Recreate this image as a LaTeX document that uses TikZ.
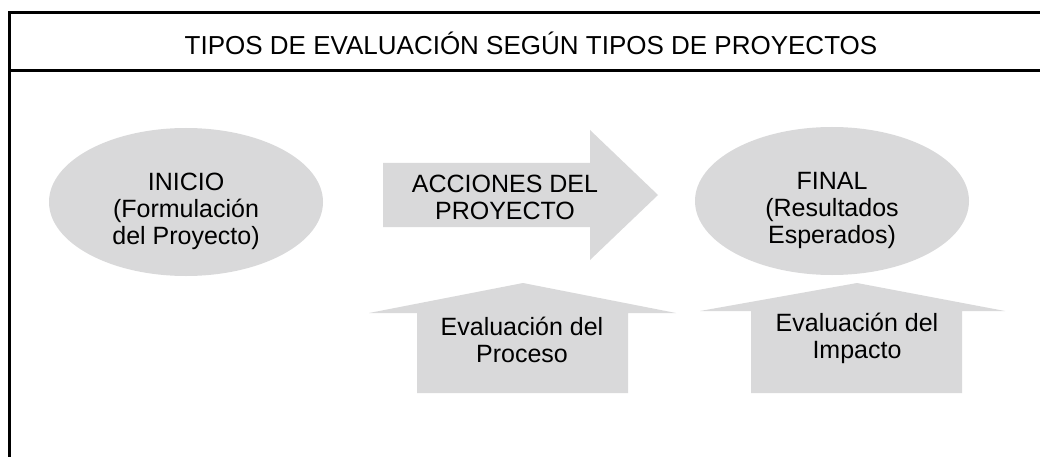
\documentclass[tikz,border=0pt]{standalone}
\usepackage{fontspec}
\setmainfont{Liberation Sans}
\definecolor{boxgray}{RGB}{217,217,218}
\tikzset{
  frameline/.style={line width=3pt, black},
  shapefill/.style={fill=boxgray, draw=none},
  lbl/.style={align=center, font=\fontsize{25}{27}\selectfont, inner sep=0pt},
  ttl/.style={font=\fontsize{26}{30}\selectfont, inner sep=0pt}
}
\begin{document}
\begin{tikzpicture}[x=1pt,y=-1pt]
\useasboundingbox (0,0) rectangle (1040,457);
% frame
\coordinate (tl) at (9.5,13);
\coordinate (tr) at (1040,13);
\coordinate (sl) at (9.5,70.5);
\coordinate (sr) at (1040,70.5);
\coordinate (bl) at (9.5,457);
\draw[frameline] (tr) -- (tl) -- (bl);
\draw[line width=2.6pt] (sl) -- (sr);
\node[ttl] (title) at (531,43) {TIPOS DE EVALUACIÓN SEGÚN TIPOS DE PROYECTOS};
% ellipses
\fill[shapefill] (186,202) ellipse [x radius=137, y radius=74];
\node[lbl] (inicio) at (186,211) {INICIO\\(Formulación\\del Proyecto)};
\fill[shapefill] (832,201) ellipse [x radius=137, y radius=74];
\node[lbl] (final) at (832,210) {FINAL\\(Resultados\\Esperados)};
% right arrow
\fill[shapefill] (383,163) -- (590,163) -- (590,130) -- (658,195) -- (590,260) -- (590,227) -- (383,227) -- cycle;
\node[lbl] (acciones) at (505,197) {ACCIONES DEL\\PROYECTO};
% up arrows
\fill[shapefill] (417,393) -- (417,313) -- (369,313) -- (523,283) -- (676,313) -- (628,313) -- (628,393) -- cycle;
\node[lbl] (proceso) at (522,340) {Evaluación del\\Proceso};
\fill[shapefill] (751,393) -- (751,311) -- (700,311) -- (857,283) -- (1005,311) -- (962,311) -- (962,393) -- cycle;
\node[lbl] (impacto) at (857,338) {Evaluación del\\Impacto};
\end{tikzpicture}
\end{document}
